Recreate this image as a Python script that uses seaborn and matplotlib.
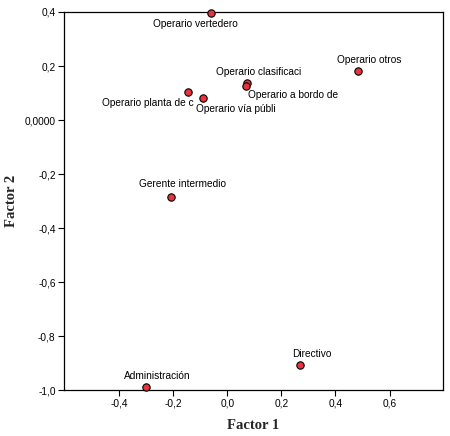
"""Factor loadings scatter (Factor 1 vs Factor 2) by occupation."""

import matplotlib
matplotlib.use("Agg")
import matplotlib.pyplot as plt
from matplotlib.ticker import FixedLocator, FuncFormatter
import pandas as pd
import seaborn as sns

# ---------------------------------------------------------------------------
# Data
# ---------------------------------------------------------------------------
occupations = [
    "Operario vertedero",
    "Operario otros",
    "Operario clasificaci",
    "Operario a bordo de",
    "Operario planta de c",
    "Operario vía públi",
    "Gerente intermedio",
    "Administración",
    "Directivo",
]
factor1 = [-0.061, 0.483, 0.073, 0.067, -0.147, -0.090, -0.210, -0.303, 0.270]
factor2 = [0.396, 0.181, 0.136, 0.125, 0.103, 0.080, -0.286, -0.989, -0.906]

x_ticks = [-0.4, -0.2, 0.0, 0.2, 0.4, 0.6]
y_ticks = [0.4, 0.2, 0.0, -0.2, -0.4, -0.6, -0.8, -1.0]

# label placement (pixel offset from point, horizontal alignment)
label_pos = {
    "Operario vertedero": (-16, -11, "center"),
    "Operario otros": (11, 11, "center"),
    "Operario clasificaci": (11, 11, "center"),
    "Operario a bordo de": (2, -9, "left"),
    "Operario planta de c": (6, -11, "right"),
    "Operario vía públi": (-7, -11, "left"),
    "Gerente intermedio": (12, 13, "center"),
    "Administración": (12, 11, "center"),
    "Directivo": (11, 11, "center"),
}

df = pd.DataFrame({"label": occupations, "f1": factor1, "f2": factor2})

sns.set_theme(style="ticks")
plt.rcParams["font.family"] = ["Liberation Sans", "DejaVu Sans"]

fig = plt.figure(figsize=(4.5, 4.36), dpi=100)
ax = fig.add_axes([64 / 450, 46 / 436, 379 / 450, 378 / 436])

sns.scatterplot(data=df, x="f1", y="f2", ax=ax, s=28, color="#e8323c",
                edgecolor="black", linewidth=0.8, clip_on=False, zorder=3)

for _, row in df.iterrows():
    dx, dy, ha = label_pos[row["label"]]
    ax.annotate(row["label"], (row["f1"], row["f2"]), xytext=(dx, dy),
                textcoords="offset pixels", ha=ha, va="center",
                fontsize=7.3, color="black", annotation_clip=False)

ax.set_xlim(-0.605, 0.798)
ax.set_ylim(-1.0, 0.4)
ax.xaxis.set_major_locator(FixedLocator(x_ticks))
ax.yaxis.set_major_locator(FixedLocator(y_ticks))
ax.xaxis.set_major_formatter(FuncFormatter(lambda v, p: f"{v:.1f}".replace(".", ",")))
ax.yaxis.set_major_formatter(FuncFormatter(
    lambda v, p: "0,0000" if abs(v) < 1e-9 else f"{v:.1f}".replace(".", ",")))
ax.tick_params(axis="both", direction="out", length=4, width=0.8,
               labelsize=7.3, colors="black", pad=2)

for side in ["top", "right", "bottom", "left"]:
    ax.spines[side].set_visible(True)
    ax.spines[side].set_color("black")
    ax.spines[side].set_linewidth(0.9)

ax.set_xlabel("Factor 1", family=["Liberation Serif"], fontweight="bold",
              fontsize=10.5, labelpad=8)
ax.set_ylabel("Factor 2", family=["Liberation Serif"], fontweight="bold",
              fontsize=10.5, labelpad=5)

fig.savefig("out.png", dpi=100)
